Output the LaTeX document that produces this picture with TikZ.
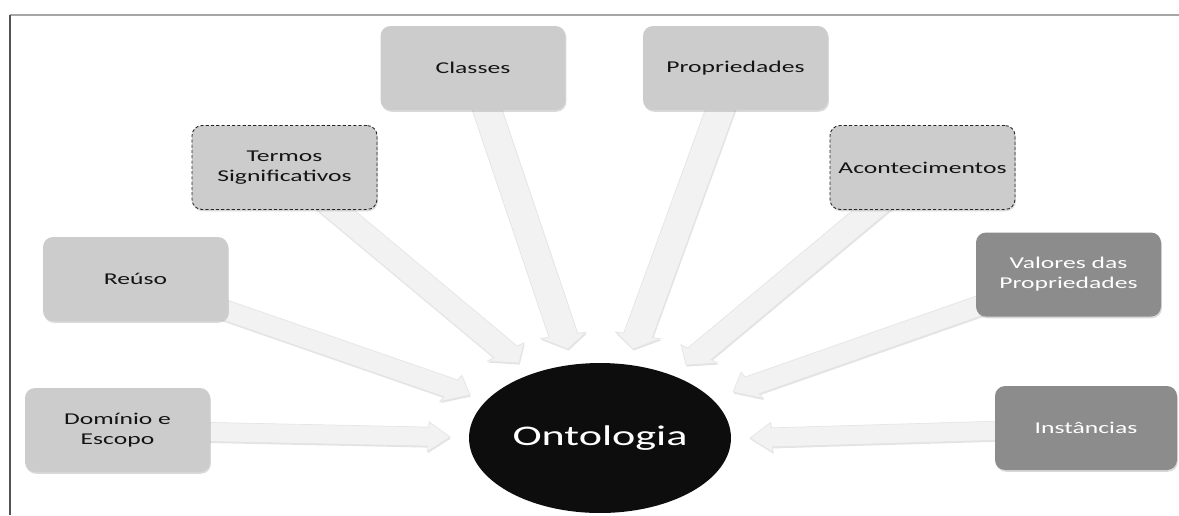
\documentclass[tikz,border=0pt]{standalone}
\usepackage{fontspec}
\setmainfont{Carlito}[FakeStretch=1.55]
\usetikzlibrary{shapes.geometric,shadows,calc,backgrounds}

\definecolor{boxlight}{HTML}{CCCCCC}
\definecolor{boxdark}{HTML}{8C8C8C}
\definecolor{arrowfill}{HTML}{F2F2F2}
\definecolor{core}{HTML}{0D0D0D}

% horizontal stretch of the whole layout and block-arrow dimensions (pt)
\newcommand\stretchx{1.55}
\newcommand\shaftw{5.4}
\newcommand\headw{8.5}
\newcommand\headl{8}

\tikzset{
  card/.style={rectangle, rounded corners=0.2cm, minimum width=3.7cm,
    minimum height=1.68cm, inner sep=0pt, align=center,
    font=\fontsize{9.4}{11.3}\selectfont,
    drop shadow={shadow xshift=0.5pt, shadow yshift=-1pt, opacity=0.3}},
  light/.style={card, fill=boxlight, text=black!92},
  dark/.style={card, fill=boxdark, text=white},
  dashedcard/.style={light, draw=black!85, line width=0.5pt,
    dash pattern=on 1.8pt off 1.2pt},
  core/.style={ellipse, fill=core, text=white, minimum width=5.24cm,
    minimum height=3cm, inner sep=0pt, font=\fontsize{16.2}{19}\selectfont},
  frameline/.style={line width=0.85pt},
  % block arrow: shaft and head built as one polygon from start to tip
  flow/.style={fill=arrowfill, draw=black!10, line width=0.4pt,
    line join=miter,
    drop shadow={shadow xshift=0.4pt, shadow yshift=-0.9pt, opacity=0.22},
    to path={
      let \p1=(\tikztostart), \p2=(\tikztotarget),
          \n1={(\x2-\x1)/\stretchx}, \n2={\y2-\y1},
          \n3={veclen(\n1,\n2)}, \n4={\n1/\n3}, \n5={\n2/\n3}
      in ({\x1-\stretchx*\shaftw*\n5},{\y1+\shaftw*\n4})
      -- ({\x2-\stretchx*\headl*\n4-\stretchx*\shaftw*\n5},{\y2-\headl*\n5+\shaftw*\n4})
      -- ({\x2-\stretchx*\headl*\n4-\stretchx*\headw*\n5},{\y2-\headl*\n5+\headw*\n4})
      -- (\x2,\y2)
      -- ({\x2-\stretchx*\headl*\n4+\stretchx*\headw*\n5},{\y2-\headl*\n5-\headw*\n4})
      -- ({\x2-\stretchx*\headl*\n4+\stretchx*\shaftw*\n5},{\y2-\headl*\n5-\shaftw*\n4})
      -- ({\x1+\stretchx*\shaftw*\n5},{\y1-\shaftw*\n4})
      -- cycle
    }}
}

\begin{document}
\begin{tikzpicture}[x=0.02cm,y=-0.02cm]
\useasboundingbox (0,0) rectangle (1179,515);

% page frame
\draw[frameline, black!35] (10,15) -- (1179,15);
\draw[frameline, black!68] (10,15) -- (10,515);

% central concept
\node[core] (ont) at (600,438) {Ontologia};

% surrounding concepts
\node[light] (dom) at (117.5,430) {Domínio e\\Escopo};
\node[light] (reu) at (135.5,279) {Reúso};
\node[dashedcard] (ter) at (284.5,167.5) {Termos\\Significativos};
\node[light] (cla) at (473,68) {Classes};
\node[light] (pro) at (735.5,68) {Propriedades};
\node[dashedcard] (aco) at (922.5,167.5) {Acontecimentos};
\node[dark] (val) at (1068.5,274.5) {Valores das\\Propriedades};
\node[dark, minimum width=3.64cm] (ins) at (1086,428) {Instâncias};

% arrow tips around the central concept
\coordinate (tdom) at (450,437);
\coordinate (treu) at (470,395);
\coordinate (tter) at (519,363);
\coordinate (tcla) at (568,349);
\coordinate (tpro) at (633,349);
\coordinate (taco) at (686,365);
\coordinate (tval) at (733,392);
\coordinate (tins) at (750,438);

\begin{scope}[on background layer]
  \draw[flow] (dom.center) to (tdom);
  \draw[flow] (reu.center) to (treu);
  \draw[flow] (ter.center) to (tter);
  \draw[flow] (cla.center) to (tcla);
  \draw[flow] (pro.center) to (tpro);
  \draw[flow] (aco.center) to (taco);
  \draw[flow] (val.center) to (tval);
  \draw[flow] (ins.center) to (tins);
\end{scope}
\end{tikzpicture}
\end{document}
